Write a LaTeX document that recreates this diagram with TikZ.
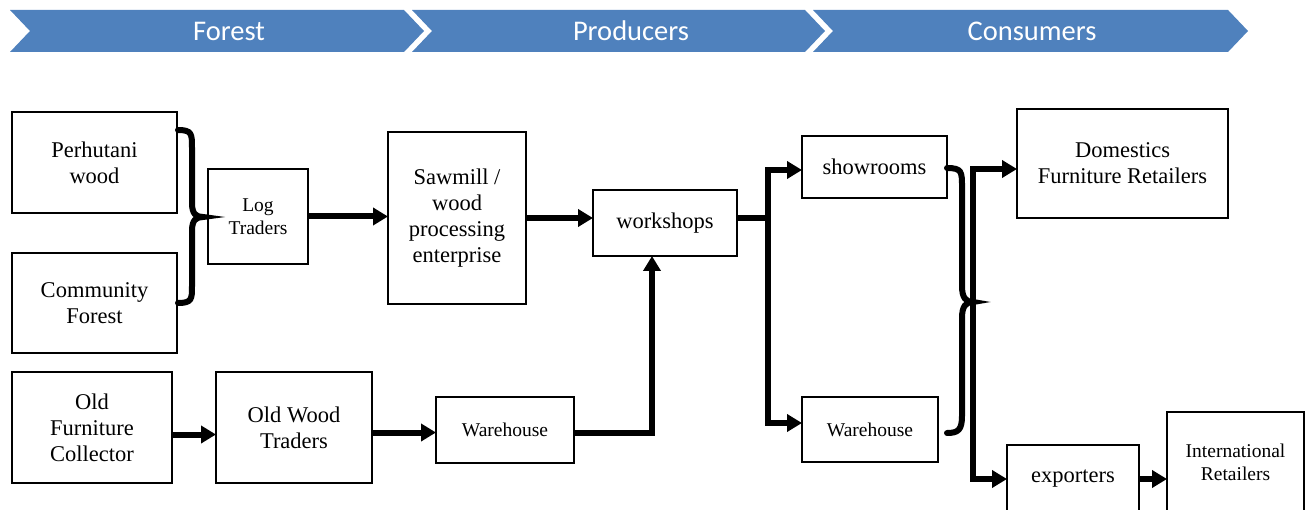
\documentclass[tikz,border=0pt]{standalone}
\usepackage{fontspec}
\setmainfont{Liberation Serif}
\newfontfamily\bannerfont{Carlito}
\usetikzlibrary{arrows.meta}
\definecolor{bannerblue}{HTML}{4F81BD}
\begin{document}
\begin{tikzpicture}[x=1pt,y=-1pt,
  box/.style={draw=black,line width=1.2pt,inner sep=0pt,outer sep=0pt,align=center,font=\fontsize{22.5}{26}\selectfont},
  smalltext/.style={font=\fontsize{19.5}{23}\selectfont},
  arr/.style={line width=6pt,-{Triangle[length=15pt,width=17pt]}},
  brace/.style={line width=6pt,line cap=round},
  chevron/.style={fill=bannerblue,draw=none},
  bannertext/.style={text=white,inner sep=0pt,font=\bannerfont\fontsize{28.5}{32}\selectfont}]
\useasboundingbox (0,0) rectangle (1305,510);
\clip (0,0) rectangle (1305,510);

% banner
\fill[chevron] (10,10) -- (404,10) -- (424,31) -- (404,52) -- (10,52) -- (30,31) -- cycle;
\fill[chevron] (412,10) -- (805,10) -- (825,31) -- (805,52) -- (412,52) -- (432,31) -- cycle;
\fill[chevron] (813,10) -- (1228,10) -- (1248,31) -- (1228,52) -- (813,52) -- (833,31) -- cycle;
\node[bannertext] (bforest) at (229,31) {Forest};
\node[bannertext] (bprod) at (631,31) {Producers};
\node[bannertext] (bcons) at (1032,31) {Consumers};

% boxes
\node[box,minimum width=165pt,minimum height=101pt] (ph) at (94.5,162.5) {Perhutani\\wood};
\node[box,minimum width=165pt,minimum height=100pt] (cf) at (94.5,303) {Community\\Forest};
\node[box,smalltext,minimum width=100pt,minimum height=95pt] (lt) at (258,216.5) {Log\\Traders};
\node[box,minimum width=138pt,minimum height=172pt] (sm) at (457,218) {Sawmill /\\wood\\processing\\enterprise};
\node[box,minimum width=144pt,minimum height=66pt] (ws) at (665,223) {workshops};
\node[box,minimum width=145pt,minimum height=62pt] (sr) at (874.5,167) {showrooms};
\node[box,minimum width=211pt,minimum height=109pt] (dom) at (1122.5,163.5) {Domestics\\Furniture Retailers};
\node[box,minimum width=160pt,minimum height=111pt] (ofc) at (92,427.5) {Old\\Furniture\\Collector};
\node[box,minimum width=156pt,minimum height=111pt] (owt) at (294,427.5) {Old Wood\\Traders};
\node[box,smalltext,minimum width=138pt,minimum height=66pt] (wl) at (505,430) {Warehouse};
\node[box,smalltext,minimum width=136pt,minimum height=65pt] (wr) at (870,429.5) {Warehouse};
\node[box,minimum width=132pt,minimum height=68pt] (exp) at (1073,479) {exporters};
\node[box,smalltext,minimum width=137pt,minimum height=101pt] (intl) at (1235.5,462.5) {International\\Retailers};

% left brace
\draw[brace] (178,130) .. controls (192,130) and (192,134) .. (192,148) -- (192,203)
  .. controls (192,214) and (196,217) .. (203,217)
  .. controls (196,217) and (192,220) .. (192,231) -- (192,286)
  .. controls (192,299) and (192,303) .. (178,303);

% right brace
\draw[brace] (947,168) .. controls (962,168) and (962,172) .. (962,187) -- (962,286)
  .. controls (962,298) and (966,302) .. (973,302)
  .. controls (966,302) and (962,306) .. (962,318) -- (962,416)
  .. controls (962,430) and (958,433) .. (947,433);
\coordinate (bt) at (973,302);

% connectors
\draw[arr] (lt.east) -- (lt.east -| sm.west);
\draw[arr] (sm.east) -- (sm.east -| ws.west);
\path (ws.east |- sm.east) ++(31,0) coordinate (j);
\draw[arr] (ws.east |- sm.east) -- (j) |- ([yshift=-3pt]sr.west);
\draw[arr] (j) |- ([yshift=6.5pt]wr.west);
\draw[arr] ([yshift=-3pt]wl.east) -| ([xshift=-13pt]ws.south);
\draw[arr] ([yshift=-7pt]ofc.east) -- ([yshift=-7pt]owt.west);
\draw[arr] ([yshift=-5pt]owt.east) -- ([yshift=-5pt]owt.east -| wl.west);
\draw[arr] (bt) |- ([yshift=-5.5pt]dom.west);
\draw[arr] (bt) |- (exp.west);
\draw[arr] (exp.east) -- (exp.east -| intl.west);
\end{tikzpicture}
\end{document}
